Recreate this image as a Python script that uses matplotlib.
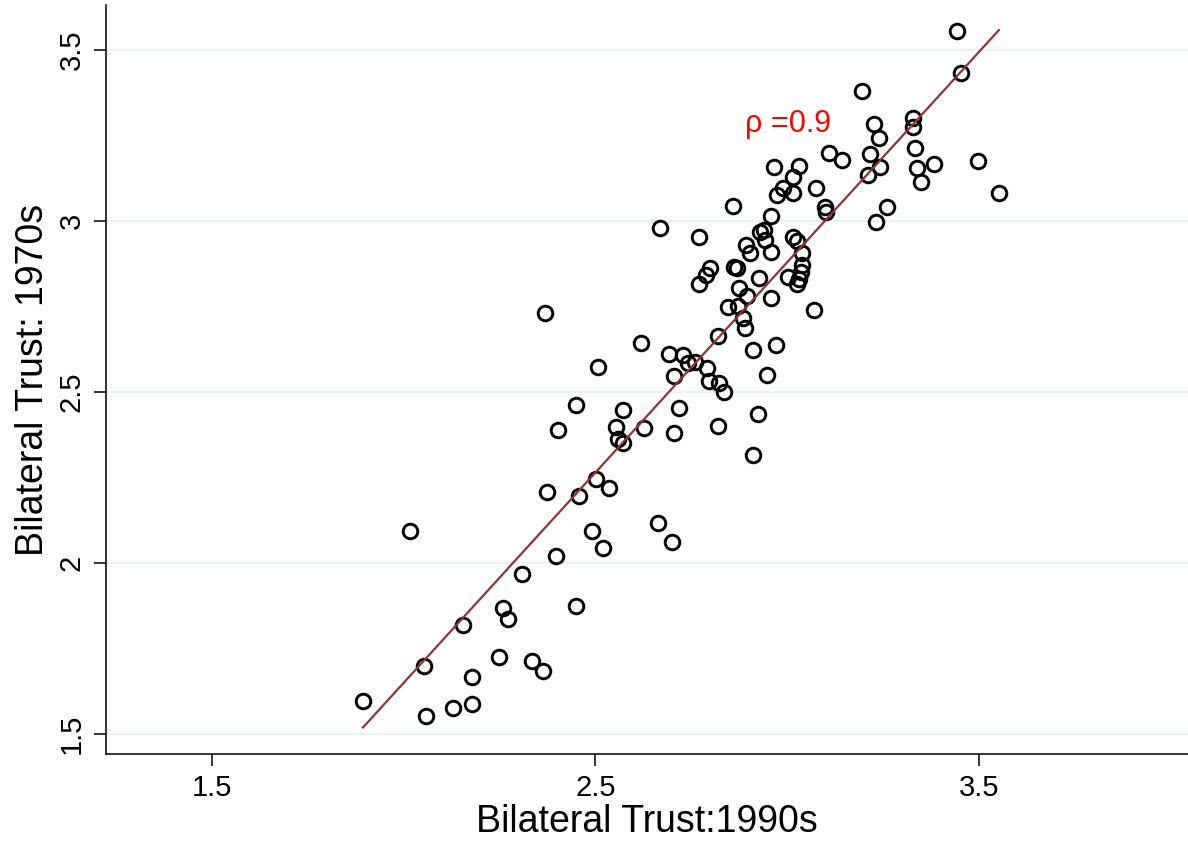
import numpy as np
import matplotlib
matplotlib.use("Agg")
import matplotlib.pyplot as plt

plt.rcParams['font.family'] = ['Liberation Sans', 'DejaVu Sans']

# Bilateral trust, 1990s (x) vs 1970s (y)
trust_1990s = [
    1.894, 2.016, 2.053, 2.058, 2.128, 2.154, 2.178, 2.178, 2.248, 2.259,
    2.272, 2.308, 2.334, 2.363, 2.368, 2.374, 2.397, 2.402, 2.449, 2.449,
    2.457, 2.491, 2.501, 2.507, 2.520, 2.535, 2.553, 2.559, 2.572, 2.572,
    2.619, 2.626, 2.663, 2.668, 2.692, 2.699, 2.705, 2.705, 2.718, 2.728,
    2.741, 2.759, 2.770, 2.770, 2.788, 2.791, 2.796, 2.799, 2.819, 2.819,
    2.822, 2.835, 2.846, 2.859, 2.861, 2.869, 2.872, 2.874, 2.885, 2.890,
    2.892, 2.895, 2.903, 2.911, 2.911, 2.924, 2.926, 2.929, 2.939, 2.942,
    2.947, 2.958, 2.958, 2.958, 2.965, 2.971, 2.973, 2.989, 3.015, 3.015,
    3.015, 3.025, 3.031, 3.038, 3.038, 3.036, 3.031, 3.002, 3.025, 3.070,
    3.075, 3.099, 3.101, 3.109, 3.143, 3.195, 3.211, 3.216, 3.226, 3.231,
    3.239, 3.242, 3.260, 3.328, 3.328, 3.333, 3.338, 3.349, 3.383, 3.443,
    3.453, 3.497, 3.552,
]
trust_1970s = [
    1.596, 2.094, 1.699, 1.553, 1.576, 1.819, 1.667, 1.588, 1.725, 1.868,
    1.836, 1.968, 1.713, 1.684, 2.731, 2.208, 2.020, 2.389, 1.874, 2.462,
    2.196, 2.094, 2.246, 2.573, 2.044, 2.219, 2.398, 2.363, 2.351, 2.447,
    2.643, 2.395, 2.117, 2.980, 2.611, 2.061, 2.547, 2.380, 2.453, 2.608,
    2.585, 2.588, 2.953, 2.816, 2.842, 2.570, 2.532, 2.863, 2.664, 2.401,
    2.526, 2.500, 2.749, 3.044, 2.865, 2.863, 2.751, 2.804, 2.716, 2.687,
    2.930, 2.781, 2.906, 2.623, 2.316, 2.436, 2.833, 2.968, 2.974, 2.944,
    2.550, 3.015, 2.909, 2.775, 3.158, 2.637, 3.076, 3.096, 3.129, 3.082,
    2.953, 2.942, 3.161, 2.906, 2.871, 2.851, 2.830, 2.836, 2.816, 2.740,
    3.096, 3.041, 3.026, 3.199, 3.178, 3.380, 3.135, 3.196, 3.284, 2.997,
    3.243, 3.158, 3.041, 3.301, 3.275, 3.213, 3.155, 3.114, 3.167, 3.556,
    3.433, 3.175, 3.082,
]

x_ticks = [1.5, 2.5, 3.5]
y_ticks = [1.5, 2, 2.5, 3, 3.5]
y_tick_labels = ['1.5', '2', '2.5', '3', '3.5']
rho_label = 'ρ =0.9'

x = np.array(trust_1990s)
y = np.array(trust_1970s)

fig = plt.figure(figsize=(11.88, 8.44), dpi=100)
ax = fig.add_axes([0.0892, 0.1066, 0.9108, 0.8874])

for yt in y_ticks:
    ax.axhline(yt, color='#eaf2f3', lw=1.6, zorder=0)

ax.plot(x, y, 'o', mfc='none', mec='black', ms=10.5, mew=2.1, zorder=3)

# fitted line over the data range
slope, intercept = np.polyfit(x, y, 1)
xs = np.array([x.min(), x.max()])
ax.plot(xs, intercept + slope * xs, color='#8e3535', lw=1.6, zorder=4)

ax.text(3.003, 3.285, rho_label, color='red', fontsize=22, ha='center', va='center')

ax.set_xlim(1.224, 4.045)
ax.set_ylim(1.4415, 3.632)
ax.set_xticks(x_ticks)
ax.set_xticklabels([str(t) for t in x_ticks])
ax.set_yticks(y_ticks)
ax.set_yticklabels(y_tick_labels, rotation=90, va='center')
ax.tick_params(axis='both', direction='out', length=8.5, width=1.1,
               labelsize=21, pad=6)

for side in ['top', 'right']:
    ax.spines[side].set_visible(False)
for side in ['left', 'bottom']:
    ax.spines[side].set_linewidth(1.1)

ax.set_xlabel('Bilateral Trust:1990s', fontsize=27, labelpad=1)
ax.set_ylabel('Bilateral Trust: 1970s', fontsize=27, labelpad=5)

fig.savefig('out.png', dpi=100)
